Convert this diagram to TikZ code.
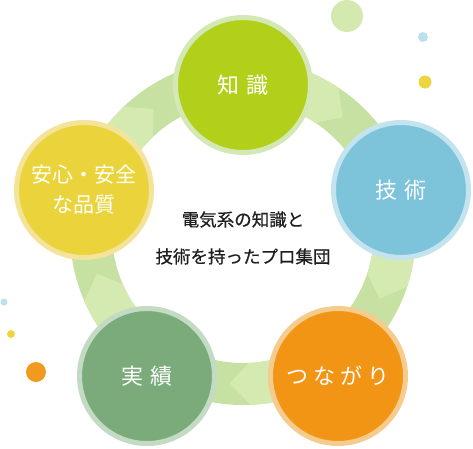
\documentclass[tikz,border=0pt]{standalone}
\usepackage{fontspec}
\setmainfont{Noto Sans CJK JP}
\newfontfamily\midfont[FakeBold=0.6]{Noto Sans CJK JP}

\definecolor{bandd}{HTML}{C6E1A2}
\definecolor{bandl}{HTML}{D5EAB1}
\definecolor{chishikiF}{HTML}{B2D01A}
\definecolor{chishikiR}{HTML}{D3E8B5}
\definecolor{gijutsuF}{HTML}{7DC4DA}
\definecolor{gijutsuR}{HTML}{C3E3EE}
\definecolor{tsunagariF}{HTML}{F29515}
\definecolor{tsunagariR}{HTML}{F6CB8E}
\definecolor{jissekiF}{HTML}{7BAB7B}
\definecolor{jissekiR}{HTML}{C3DAC3}
\definecolor{anshinF}{HTML}{EBD43B}
\definecolor{anshinR}{HTML}{F3E39B}
\definecolor{dotgreen}{HTML}{D4E9AE}
\definecolor{dotblue}{HTML}{BDE1EA}
\definecolor{dotyellow}{HTML}{ECD53E}
\definecolor{dotorange}{HTML}{F29A1F}

\tikzset{
  ball/.style={circle, minimum size=135pt, inner sep=0pt, line width=5pt,
    text=white, font=\fontsize{22}{30}\selectfont, align=center},
}

\begin{document}
\begin{tikzpicture}[x=1pt,y=1pt]
\useasboundingbox (-243,-216) rectangle (230,232);

% ring
\fill[bandd, even odd rule] (0,0) circle (173) (0,0) circle (131);
\foreach \a/\t in {90/49, 15/-26, -57/-95, -124/-164, 165/126}
  \fill[bandl] ({\t+7.5}:173) arc[start angle={\t+7.5}, end angle=\a, radius=173]
    -- (\a:131) arc[start angle=\a, end angle={\t+7.5}, radius=131]
    -- (\t:152) -- cycle;

% dots
\fill[dotgreen] (104,216) circle (16);
\fill[dotblue] (180,195) circle (5);
\fill[dotyellow] (182,150) circle (6.5);
\fill[dotblue] (-239,-70) circle (3.5);
\fill[dotyellow] (-232,-102) circle (4);
\fill[dotorange] (-207,-140) circle (10);

% circles
\node[ball, draw=chishikiR, fill=chishikiF] (chishiki) at (0,147) {知\hspace{7pt}識};
\node[ball, draw=gijutsuR, fill=gijutsuF] (gijutsu) at (158,42) {技\hspace{7pt}術};
\node[ball, draw=tsunagariR, fill=tsunagariF] (tsunagari) at (95,-144) {つ\hspace{5pt}な\hspace{5pt}が\hspace{5pt}り};
\node[ball, draw=jissekiR, fill=jissekiF] (jisseki) at (-96,-144) {実\hspace{7pt}績};
\node[ball, draw=anshinR, fill=anshinF, font=\fontsize{21}{30}\selectfont] (anshin) at (-159,42) {安心・安全\\な品質};

\node[font=\midfont\fontsize{17.5}{37}\selectfont, align=center, text=black!88] (group) at (0,-6) {電気系の知識と\\技術を持ったプロ集団};
\end{tikzpicture}
\end{document}
